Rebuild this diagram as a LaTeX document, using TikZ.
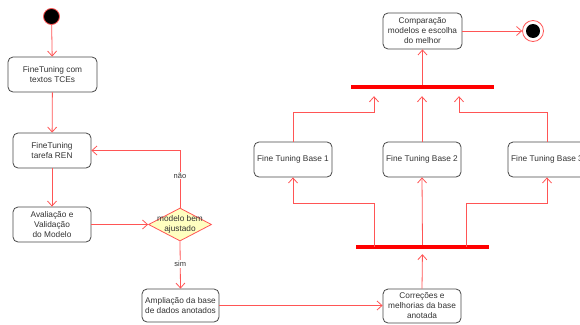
\documentclass[tikz,border=0pt]{standalone}
\usepackage{fontspec}
\setmainfont{Liberation Sans}
\usetikzlibrary{arrows.meta,shapes.geometric,calc}
\definecolor{lred}{HTML}{FF5555}
\definecolor{txt}{HTML}{333333}
\definecolor{dyel}{HTML}{FFFFC0}
\tikzset{
  act/.style={draw=txt!90,line width=0.8pt,rounded corners=5pt,fill=white,align=center,
    text=txt,font=\fontsize{8.3}{10}\selectfont,inner sep=1pt},
  arr/.style={draw=lred,line width=0.8pt,-{Straight Barb[length=5pt,width=9pt]}},
  ln/.style={draw=lred,line width=0.8pt},
  bar/.style={fill=red,draw=none,inner sep=0pt},
  lbl/.style={fill=white,text=txt,font=\fontsize{7.5}{9}\selectfont,inner sep=1pt}
}
\begin{document}
\begin{tikzpicture}[x=1pt,y=-1pt]
\useasboundingbox (0,0) rectangle (580,324);
\clip (0,0) rectangle (580,324);
\fill[white] (0,0) rectangle (580,324);
% start
\node[circle,fill=black,draw=lred,line width=0.8pt,minimum size=16pt,inner sep=0pt] (start) at (51.5,16.5) {};
% left column
\node[act,minimum width=89pt,minimum height=35pt] (b1) at (52.5,74.5) {FineTuning com\\textos TCEs};
\node[act,minimum width=78pt,minimum height=35pt] (b2) at (52,150.5) {FineTuning\\tarefa REN};
\node[act,minimum width=78pt,minimum height=35pt] (b3) at (52,224.5) {Avaliação e\\Validação\\do Modelo};
\node[diamond,draw=lred,fill=dyel,line width=0.8pt,minimum width=63pt,minimum height=33pt,inner sep=0pt,
  text=txt,font=\fontsize{8.3}{10}\selectfont,align=center] (d) at (180,224.5) {};
\node[text=txt,font=\fontsize{8.3}{10}\selectfont,align=center] (dt) at (d) {modelo bem\\ajustado};
\node[act,minimum width=77pt,minimum height=33pt] (b4) at (180.5,305.5) {Ampliação da base\\de dados anotados};
\node[act,minimum width=78pt,minimum height=34pt] (b5) at (422,306) {Correções e\\melhorias da base\\anotada};
% bars
\node[bar,minimum width=133pt,minimum height=4pt] (bar2) at (422.5,247) {};
\node[bar,minimum width=143pt,minimum height=4pt] (bar1) at (422.5,87) {};
% fine tuning boxes
\node[act,minimum width=78pt,minimum height=35pt] (f1) at (293,159.5) {Fine Tuning Base 1};
\node[act,minimum width=78pt,minimum height=35pt] (f2) at (422,159.5) {Fine Tuning Base 2};
\node[act,minimum width=78pt,minimum height=35pt] (f3) at (547,159.5) {Fine Tuning Base 3};
\node[act,minimum width=79pt,minimum height=36pt] (cmp) at (422.5,31) {Comparação\\modelos e escolha\\do melhor};
% end
\node[circle,draw=lred,fill=white,line width=0.8pt,minimum size=21pt,inner sep=0pt] (end) at (533,31) {};
\node[circle,fill=black,minimum size=14pt,inner sep=0pt] (endin) at (end) {};
% connectors
\draw[arr] (start) -- (b1);
\draw[arr] (b1) -- (b2);
\draw[arr] (b2) -- (b3);
\draw[arr] (b3.east) -- (d.west);
\draw[arr] (d.north) |- (b2.east) node[pos=0.28,lbl] {não};
\draw[arr] (d.south) -- (b4.north) node[pos=0.48,lbl] {sim};
\draw[arr] (b4.east) -- (b4.east -| b5.west);
\draw[arr,shorten >=5pt] (b5.north) -- (bar2.south);
\draw[arr] ($(bar2.north)+(-48.5,2)$) -- ++(0,-43) -| (f1.south);
\draw[arr] (bar2.north) -- (f2.south);
\draw[arr] ($(bar2.north)+(43.5,2)$) -- ++(0,-43) -| (f3.south);
\draw[arr,shorten >=7pt] (f1.north) -- ++(0,-29) -| ($(bar1.south)+(-48.5,0)$);
\draw[arr,shorten >=7pt] (f2.north) -- (f2.north |- bar1.south);
\draw[arr,shorten >=7pt] (f3.north) -- ++(0,-29) -| ($(bar1.south)+(36.5,0)$);
\draw[arr] (bar1.north -| cmp.south) -- (cmp.south);
\draw[arr] (cmp.east) -- (end.west);
\end{tikzpicture}
\end{document}
